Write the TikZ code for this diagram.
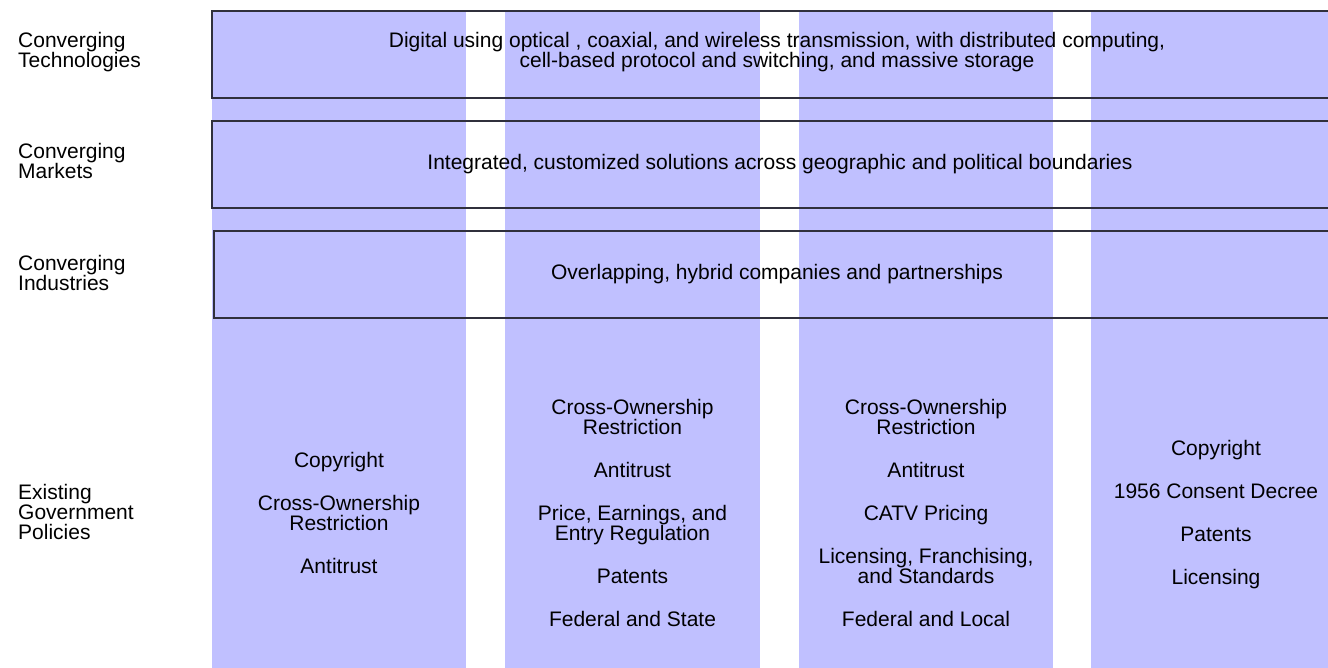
\documentclass[tikz,border=0pt]{standalone}
\usepackage{fontspec}
\setmainfont{Liberation Sans}
\definecolor{polfill}{RGB}{192, 192, 255}
\definecolor{polline}{RGB}{48, 48, 60}
\begin{document}
\begin{tikzpicture}[
    x=1pt, y=-1pt,
    band/.style={fill=polfill},
    layer/.style={draw=polline, line width=1.6pt},
    txt/.style={inner sep=0pt, anchor=north, align=center,
                font=\fontsize{21}{20}\selectfont},
    side/.style={txt, anchor=north west, align=left}
  ]
    \useasboundingbox (0,0) rectangle (1328,667);
    \clip (0,0) rectangle (1328,667);

    % policy columns
    \fill[band] (212,  11) rectangle (466,  680);
    \fill[band] (505,  11) rectangle (760,  680);
    \fill[band] (799,  11) rectangle (1053, 680);
    \fill[band] (1091, 11) rectangle (1345, 680);

    % converging layers
    \draw[layer] (212,  11) rectangle (1342,  98);
    \draw[layer] (212, 121) rectangle (1342, 208);
    \draw[layer] (214, 231) rectangle (1342, 318);

    \node[side] (tech)   at (18,  31.7) {Converging\\Technologies};
    \node[side] (market) at (18, 143)   {Converging\\Markets};
    \node[side] (indus)  at (18, 255)   {Converging\\Industries};
    \node[side] (policy) at (18, 484)   {Existing\\Government\\Policies};

    \node[txt] (techtxt)   at (777, 31.7)
      {Digital using optical , coaxial, and wireless transmission, with distributed computing,\\
       cell-based protocol and switching, and massive storage};
    \node[txt] (markettxt) at (780, 153.7)
      {Integrated, customized solutions across geographic and political boundaries};
    \node[txt] (industxt)  at (777, 263.7)
      {Overlapping, hybrid companies and partnerships};

    \node[txt] (polA) at (339, 452.5)
      {Copyright\\[23pt] Cross-Ownership\\Restriction\\[23pt] Antitrust};
    \node[txt] (polB) at (632.5, 398.7)
      {Cross-Ownership\\Restriction\\[23pt] Antitrust\\[23pt]
       Price, Earnings, and\\Entry Regulation\\[23pt] Patents\\[23pt] Federal and State};
    \node[txt] (polC) at (926, 398.7)
      {Cross-Ownership\\Restriction\\[23pt] Antitrust\\[23pt] CATV Pricing\\[23pt]
       Licensing, Franchising,\\and Standards\\[23pt] Federal and Local};
    \node[txt] (polD) at (1216, 439.7)
      {Copyright\\[23pt] 1956 Consent Decree\\[23pt] Patents\\[23pt] Licensing};
\end{tikzpicture}
\end{document}
